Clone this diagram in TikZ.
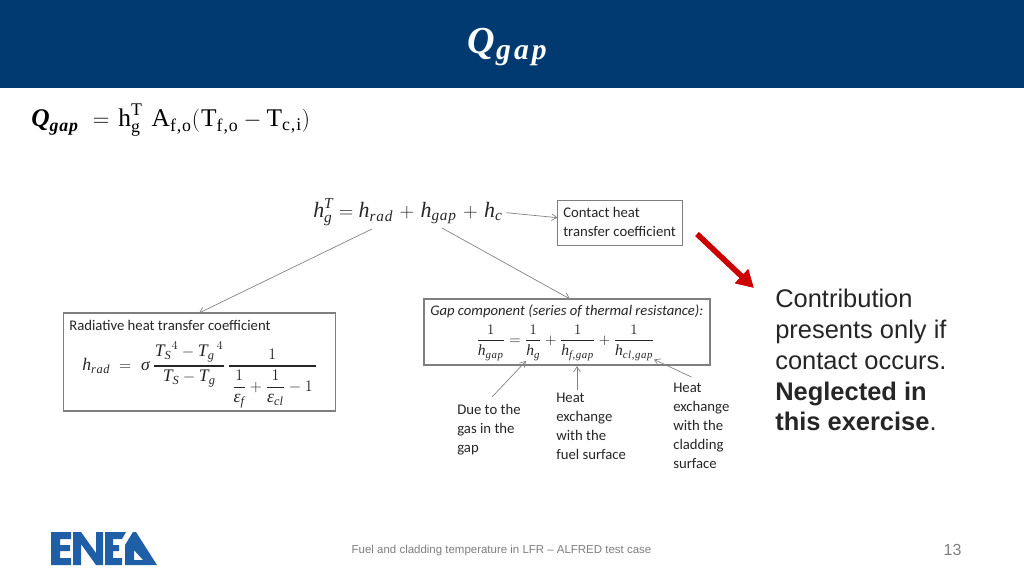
\documentclass[tikz,border=0pt]{standalone}
\usepackage{amsmath}
\usepackage{fontspec}
\setmainfont{Liberation Sans}
\setmathrm{Liberation Serif}
\newfontfamily\cali{Carlito}
\newfontfamily\mi{Liberation Serif}[Scale=1.06]
\newfontfamily\mis{Liberation Serif}[Scale=1.06,LetterSpace=5]
\newcommand\mv[1]{\text{\mi\itshape #1}}
\newcommand\ms[1]{\text{\mis\itshape #1}}
\newcommand\mb[1]{\text{\mi\bfseries\itshape #1}}
\newcommand\mbs[1]{\text{\mis\bfseries\itshape #1}}
\newcommand\mr[1]{\text{\mi #1}}
\newcommand\mrs[1]{\text{\mis #1}}
\newcommand\tf[2]{\genfrac{}{}{0.9pt}{0}{#1}{#2}}
\definecolor{banner}{HTML}{003A70}
\definecolor{enea}{HTML}{1F5FA8}
\definecolor{redarrow}{HTML}{CC0000}
\definecolor{linegray}{HTML}{7F7F7F}
\definecolor{foot}{HTML}{7F7F7F}
\definecolor{ink}{HTML}{262626}
\usetikzlibrary{arrows.meta}
\tikzset{
  x=0.75pt,y=-0.75pt,
  capbox/.style={draw=linegray,line width=0.8pt,inner sep=0pt,outer sep=0pt,fill=white},
  caplabel/.style={font=\cali\fontsize{11.05}{14.3}\selectfont,text=ink,align=left,anchor=north west,inner sep=0pt},
  eqn/.style={text=ink,inner sep=0pt},
  thin arrow/.style={draw=linegray,line width=0.5pt,-{Straight Barb[length=4pt,width=5pt]}},
}
\begin{document}
\begin{tikzpicture}
\useasboundingbox (0,0) rectangle (1024,576);
\fill[white] (0,0) rectangle (1024,576);
\fill[banner] (0,0) rectangle (1024,88);
\node[text=white,inner sep=0pt] (title) at (507,47) {\mi\bfseries\itshape\fontsize{27}{30}\selectfont Q\kern1pt\raisebox{-5pt}{\addfontfeature{LetterSpace=10}\fontsize{21}{24}\selectfont gap}};
\node[anchor=west,inner sep=0pt,text=black] (maineq) at (31,120) {\fontsize{18}{20}\selectfont$\mb{Q}_{\mbs{gap}}\mkern6mu=\mkern2mu\mr{h}_{\mr{g}}^{\mr{T}}\mkern7mu\mr{A}_{\mrs{f,o}}(\mkern1mu\mr{T}_{\mrs{f,o}}-\mr{T}_{\mrs{c,i}})$};
% top equation
\node[eqn,anchor=west] (heq) at (313,212) {\fontsize{15.5}{18}\selectfont$\mv{h}_{\mv{g}}^{\mv{T}}=\mv{h}_{\ms{rad}}\mkern2mu+\mkern2mu\mv{h}_{\ms{gap}}\mkern2mu+\mkern2mu\mv{h}_{\mv{c}}$};
\coordinate (hc) at (506.5,212.7);
\coordinate (hrad) at (372,229);
\coordinate (hgap) at (442,228);
% contact box
\node[capbox,minimum width=93.75pt,minimum height=33.75pt,anchor=north west] (contact) at (557.5,200.5) {};
\node[caplabel] (contacttxt) at (563,207) {Contact heat\\transfer coefficient};
\coordinate (contactin) at (557.5,217.7);
\draw[thin arrow] (hc) -- (contactin);
% radiative box
\node[capbox,minimum width=204pt,minimum height=73.5pt,anchor=north west] (radbox) at (63.5,313) {};
\node[caplabel] (radtxt) at (69,319.5) {Radiative heat transfer coefficient};
\node[eqn,anchor=west] (radeq) at (82,375) {\fontsize{12.5}{14}\selectfont$\mv{h}_{\ms{rad}}\mkern5mu=\mkern6mu\mv{σ}\,\tf{\mkern1mu{\mv{T}_{\mv{S}}}^{4}-{\mv{T}_{\mv{g}}}^{\,4}\mkern1mu}{\mv{T}_{\mv{S}}-\mv{T}_{\mv{g}}}\mkern1mu\tf{1}{\mkern4mu\tf{1}{\mv{ε}_{\mv{f}}}+\tf{1}{\mv{ε}_{\mv{cl}}}-1\mkern4mu}$};
\coordinate (radin) at (199,313);
\draw[thin arrow] (hrad) -- (radin);
% gap box
\node[capbox,minimum width=214.5pt,minimum height=49.5pt,anchor=north west] (gapbox) at (424,299) {};
\node[caplabel,font=\cali\itshape\fontsize{11}{13}\selectfont] (gaptxt) at (430,304.5) {Gap component (series of thermal resistance):};
\node[eqn] (gapeq) at (565.5,343) {\fontsize{11}{12}\selectfont$\tf{1}{\mv{h}_{\ms{gap}}}=\tf{1}{\mv{h}_{\mv{g}}}+\tf{1}{\mv{h}_{\ms{f,gap}}}+\tf{1}{\mv{h}_{\ms{cl,gap}}}$};
\coordinate (gapin) at (570,299);
\draw[thin arrow] (hgap) -- (gapin);
% notes
\node[caplabel] (n1) at (457,403.5) {Due to the\\gas in the\\gap};
\node[caplabel] (n2) at (556,392.5) {Heat\\exchange\\with the\\fuel surface};
\node[caplabel] (n3) at (673,382.5) {Heat\\exchange\\with the\\cladding\\surface};
\coordinate (n1s) at (492,397);
\coordinate (n1e) at (526,361);
\coordinate (n2s) at (577,390);
\coordinate (n2e) at (577,366);
\coordinate (n3s) at (691.5,377);
\coordinate (n3e) at (654,359.5);
\draw[thin arrow] (n1s) -- (n1e);
\draw[thin arrow] (n2s) -- (n2e);
\draw[thin arrow] (n3s) -- (n3e);
% red arrow
\coordinate (ra) at (697,234);
\coordinate (rb) at (754,288);
\draw[redarrow,line width=4.2pt,-{Triangle[length=13pt,width=14pt]}] (ra) -- (rb);
% note text
\node[anchor=north west,inner sep=0pt,align=left,text=ink,font=\fontsize{19.1}{23.1}\selectfont] (note) at (775,289) {Contribution\\presents only if\\contact occurs.\\\textbf{Neglected in}\\\textbf{this exercise}.};
% footer
\node[text=foot,inner sep=0pt,font=\fontsize{8.6}{10}\selectfont] (footer) at (501.5,551) {Fuel and cladding temperature in LFR -- ALFRED test case};
\node[text=foot,inner sep=0pt,font=\fontsize{12}{14}\selectfont] (page) at (952.5,550) {13};
% logo
\fill[enea] (51,532) -- (71,532) -- (71,539) -- (60,539) -- (60,545) -- (70,545) -- (70,551) -- (60,551) -- (60,558) -- (71,558) -- (71,565) -- (51,565) -- cycle;
\fill[enea] (73,532) -- (81,532) -- (96,553) -- (96,532) -- (103,532) -- (103,565) -- (96,565) -- (81,544) -- (81,565) -- (73,565) -- cycle;
\fill[enea] (105,532) -- (126,532) -- (122,539) -- (113,539) -- (113,545) -- (119,545) -- (119,551) -- (113,551) -- (113,558) -- (122,558) -- (122,565) -- (105,565) -- cycle;
\fill[enea] (125,545) -- (133,532) -- (136,532) -- (157,565) -- (134,565) -- (134,560) -- (143,560) -- (134,550) -- (134,565) -- (125,565) -- cycle;
\end{tikzpicture}
\end{document}
